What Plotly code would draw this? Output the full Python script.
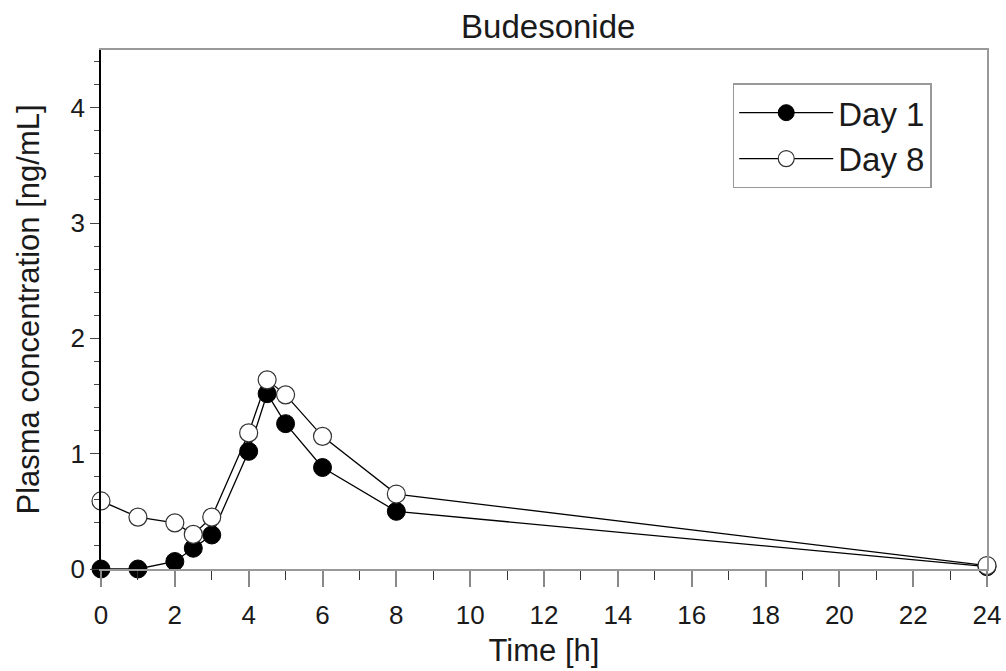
import plotly.graph_objects as go

time_h = [0, 1, 2, 2.5, 3, 4, 4.5, 5, 6, 8, 24]
day1 = [0.0, 0.0, 0.065, 0.18, 0.295, 1.02, 1.52, 1.26, 0.88, 0.50, 0.02]
day8 = [0.59, 0.45, 0.40, 0.30, 0.45, 1.18, 1.64, 1.51, 1.15, 0.65, 0.03]
x_ticks = list(range(0, 25, 2))
y_ticks = [0, 1, 2, 3, 4]

FONT = "Liberation Sans, Arial, sans-serif"

fig = go.Figure()
fig.add_trace(go.Scatter(
    x=time_h, y=day1, name="Day 1", mode="lines+markers",
    line=dict(color="black", width=1.3),
    marker=dict(size=18, color="black", line=dict(color="black", width=1)),
    cliponaxis=False,
))
fig.add_trace(go.Scatter(
    x=time_h, y=day8, name="Day 8", mode="lines+markers",
    line=dict(color="black", width=1.3),
    marker=dict(size=18, color="white", line=dict(color="#333", width=1.2)),
    cliponaxis=False,
))
# invisible trace on secondary y axis to draw right border
fig.add_trace(go.Scatter(x=[0], y=[0], yaxis="y2", showlegend=False,
                         mode="markers", marker=dict(opacity=0), hoverinfo="skip"))

tick_font = dict(family=FONT, size=26, color="#1a1a1a")

fig.update_layout(
    width=1006, height=671,
    margin=dict(l=101, r=19, t=50, b=102, autoexpand=False),
    paper_bgcolor="white", plot_bgcolor="white",
    font=dict(family=FONT, color="#1a1a1a", size=25),
    title=dict(text="Budesonide", x=0.545, xanchor="center", y=0.960, yanchor="middle",
               font=dict(size=33)),
    xaxis=dict(
        range=[0, 24], tickmode="array", tickvals=x_ticks, ticktext=[str(v) for v in x_ticks],
        ticks="outside", ticklen=16, tickwidth=1.5, tickcolor="#888",
        ticklabelstandoff=6,
        minor=dict(dtick=1, ticks="outside", ticklen=9, tickcolor="#333", tickwidth=1.2),
        showline=True, linecolor="#999", linewidth=2, mirror=True,
        showgrid=False, zeroline=False, automargin=False,
        title=dict(text="Time [h]", font=dict(size=31), standoff=10),
        tickfont=tick_font,
    ),
    yaxis=dict(
        range=[0, 4.5], tickmode="array", tickvals=y_ticks, ticktext=[str(v) for v in y_ticks],
        ticks="outside", ticklen=9, tickwidth=1.2, tickcolor="#444",
        minor=dict(dtick=0.2, ticks="outside", ticklen=5, tickcolor="#444", tickwidth=1.2),
        showline=True, linecolor="black", linewidth=1.5, mirror=False,
        showgrid=False, zeroline=False, automargin=False,
        title=dict(text="Plasma concentration [ng/mL]", font=dict(size=31), standoff=22),
        tickfont=tick_font,
    ),
    yaxis2=dict(overlaying="y", side="right", range=[0, 4.5], showticklabels=False,
                ticks="", showgrid=False, zeroline=False, automargin=False,
                showline=True, linecolor="#999", linewidth=2),
    legend=dict(
        x=0.713, y=0.936, xanchor="left", yanchor="top",
        bgcolor="white", bordercolor="#999", borderwidth=1.5,
        font=dict(size=33), itemwidth=94, tracegroupgap=0,
    ),
    showlegend=True,
)

fig.write_html("out.html", config={"displayModeBar": False},
               post_script="document.body.style.margin='0';")
